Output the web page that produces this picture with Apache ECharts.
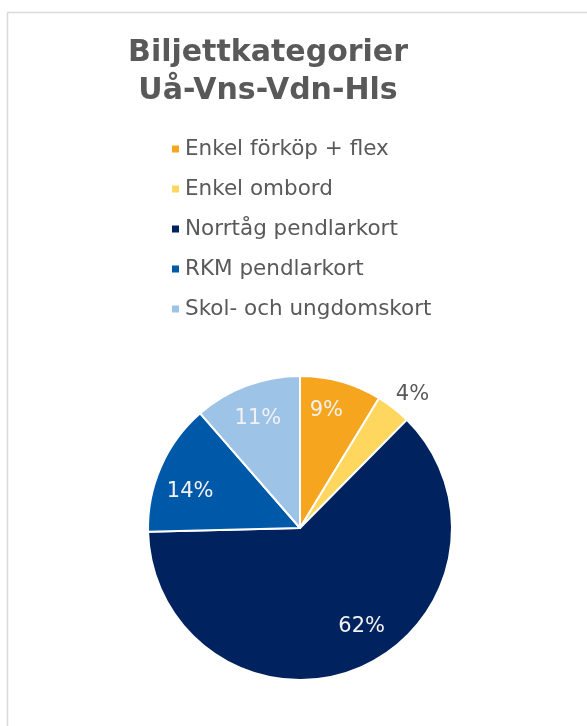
<!DOCTYPE html>
<html>
<head>
<meta charset="utf-8">
<script src="https://cdn.jsdelivr.net/npm/echarts@6/dist/echarts.min.js"></script>
<style>
  html, body { margin: 0; padding: 0; background: #fff; }
  #chart { width: 587px; height: 726px; }
</style>
</head>
<body>
<div id="chart"></div>
<script>
// biljettkategorier, andel per typ
const categories = ['Enkel förköp + flex', 'Enkel ombord', 'Norrtåg pendlarkort', 'RKM pendlarkort', 'Skol- och ungdomskort'];
const shares = [8.7, 3.7, 62.2, 14.0, 11.4];
const colors = ['#F6A51E', '#FFD75F', '#00225E', '#0059A8', '#9DC3E6'];

const chart = echarts.init(document.getElementById('chart'));

const pieData = categories.map((name, i) => ({
	name: name,
	value: shares[i],
	itemStyle: { color: colors[i] }
}));

// osynlig ring som bara bär etiketterna (hamnar längre ut än 'inside')
const labelData = categories.map((name, i) => {
	const item = { name: name, value: shares[i] };
	if (name === 'Enkel ombord') {
		item.label = { position: 'outside', color: '#595959' };
		item.labelLine = { show: false, length: 2, length2: 0 };
	}
	return item;
});

// små justeringar så etiketterna hamnar som i Excel ("bästa passning")
const nudge = (params) => {
	switch (params.dataIndex) {
		case 0: return { dx: -6, dy: -2 };
		case 1: return { dx: -4, dy: -12 };
		case 2: return { dx: 14, dy: -12 };
		case 3: return { dy: 12 };
		case 4: return { dy: 3 };
	}
	return {};
};

const option = {
	animation: false,
	title: {
		text: 'Biljettkategorier\nUå-Vns-Vdn-Hls',
		left: 263,
		top: 29,
		textAlign: 'center',
		textStyle: {
			fontFamily: 'DejaVu Sans',
			fontSize: 30,
			fontWeight: 'bold',
			color: '#595959',
			lineHeight: 38
		}
	},
	legend: {
		orient: 'vertical',
		left: 165,
		top: 133,
		icon: 'rect',
		itemWidth: 9,
		itemHeight: 9,
		itemGap: 18,
		data: categories,
		textStyle: {
			fontFamily: 'DejaVu Sans',
			fontSize: 21.5,
			lineHeight: 22,
			color: '#595959'
		}
	},
	graphic: [{
		type: 'rect',
		shape: { x: 7.5, y: 12.5, width: 700, height: 800 },
		style: { fill: 'none', stroke: '#d9d9d9', lineWidth: 1.5 },
		silent: true
	}],
	series: [
		{
			type: 'pie',
			center: [300, 528],
			radius: 152,
			startAngle: 90,
			clockwise: true,
			silent: true,
			label: { show: false },
			labelLine: { show: false },
			itemStyle: { borderColor: '#fff', borderWidth: 2 },
			data: pieData
		},
		{
			type: 'pie',
			center: [300, 528],
			radius: [82, 152],
			startAngle: 90,
			clockwise: true,
			silent: true,
			itemStyle: { color: 'rgba(0,0,0,0)' },
			label: {
				show: true,
				position: 'inside',
				fontFamily: 'DejaVu Sans',
				fontSize: 21,
				color: '#f2f2f2',
				formatter: p => Math.round(p.percent) + '%'
			},
			labelLine: { show: false },
			labelLayout: nudge,
			data: labelData
		}
	]
};

chart.setOption(option);
</script>
</body>
</html>
